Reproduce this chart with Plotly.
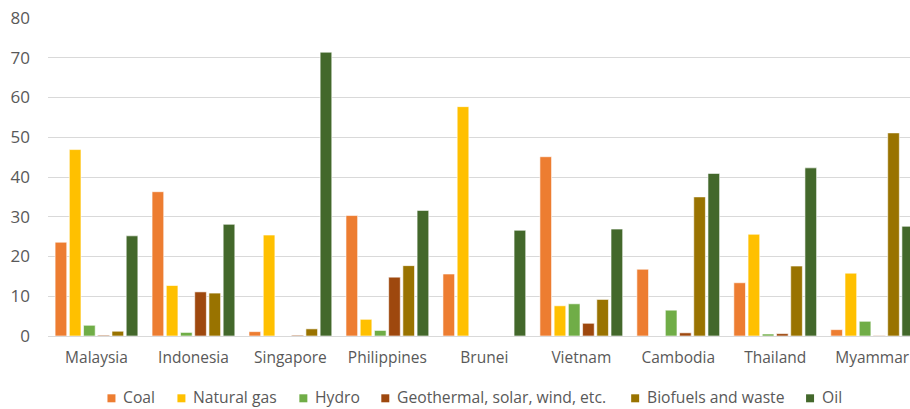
import plotly.graph_objects as go

countries = ["Malaysia", "Indonesia", "Singapore", "Philippines", "Brunei",
             "Vietnam", "Cambodia", "Thailand", "Myammar"]

coal = [23.6, 36.3, 1.1, 30.3, 15.6, 45.1, 16.8, 13.4, 1.6]
natural_gas = [46.9, 12.7, 25.4, 4.2, 57.7, 7.6, 0.0, 25.6, 15.8]
hydro = [2.7, 0.9, 0.0, 1.4, 0.0, 8.1, 6.5, 0.5, 3.7]
geothermal = [0.2, 11.1, 0.2, 14.8, 0.0, 3.2, 0.8, 0.6, 0.1]
biofuels = [1.2, 10.8, 1.8, 17.7, 0.0, 9.2, 35.0, 17.6, 51.1]
oil = [25.2, 28.1, 71.4, 31.6, 26.6, 26.9, 40.9, 42.3, 27.6]

series_names = ["Coal", "Natural gas", "Hydro", "Geothermal, solar, wind, etc.",
                "Biofuels and waste", "Oil"]
series_values = [coal, natural_gas, hydro, geothermal, biofuels, oil]
series_colors = ["#ED7D31", "#FFC000", "#70AD47", "#9E480E", "#997300", "#43682B"]

FONT = "'Open Sans', 'Noto Sans', sans-serif"
TEXT_COLOR = "#595959"

# figure geometry (pixels)
W, H = 910, 409
M_L, M_R, M_T, M_B = 47.5, 0, 18, 73
PLOT_W = W - M_L - M_R
PLOT_H = H - M_T - M_B

# bottom legend layout: label left edges (pixels); swatch sits just before each label
legend_text_x = [121, 191, 313, 395, 645, 820]
swatch_gap = 6
swatch = 8
swatch_cy = 398.3
legend_text_cy = 397


def px_to_paper_x(px):
    return (px - M_L) / PLOT_W


def px_to_paper_y(py):
    return (H - M_B - py) / PLOT_H


fig = go.Figure()
for name, vals, color in zip(series_names, series_values, series_colors):
    fig.add_trace(go.Bar(
        name=name, x=countries, y=vals,
        marker=dict(color=color, line=dict(color="white", width=0.6)),
        showlegend=False,
    ))

# custom legend: colored squares with labels
for name, color, tx in zip(series_names, series_colors, legend_text_x):
    sx1 = tx - swatch_gap
    fig.add_shape(
        type="rect", xref="paper", yref="paper",
        x0=px_to_paper_x(sx1 - swatch), x1=px_to_paper_x(sx1),
        y0=px_to_paper_y(swatch_cy + swatch / 2), y1=px_to_paper_y(swatch_cy - swatch / 2),
        fillcolor=color, line=dict(width=0), layer="above",
    )
    fig.add_annotation(
        x=px_to_paper_x(tx), y=px_to_paper_y(legend_text_cy), xref="paper", yref="paper",
        xanchor="left", yanchor="middle", showarrow=False, text=name,
        font=dict(family=FONT, size=15.7, color=TEXT_COLOR),
    )

fig.update_layout(
    width=W, height=H,
    margin=dict(l=M_L, r=M_R, t=M_T, b=M_B),
    paper_bgcolor="white", plot_bgcolor="white",
    barmode="group", bargap=0.12, bargroupgap=0.18,
    font=dict(family=FONT, size=16, color=TEXT_COLOR),
    showlegend=False,
    xaxis=dict(range=[-0.5, 8.39], showgrid=False, showline=False, ticks="",
               tickfont=dict(size=15.5, color=TEXT_COLOR), ticklabelstandoff=10,
               automargin=False),
    yaxis=dict(range=[0, 80], dtick=10, showgrid=True, gridcolor="#D9D9D9",
               gridwidth=1, zeroline=True, zerolinecolor="#D9D9D9", zerolinewidth=1,
               ticks="", tickfont=dict(size=17, color=TEXT_COLOR), ticklabelstandoff=17,
               automargin=False),
)

fig.write_html("out.html")
